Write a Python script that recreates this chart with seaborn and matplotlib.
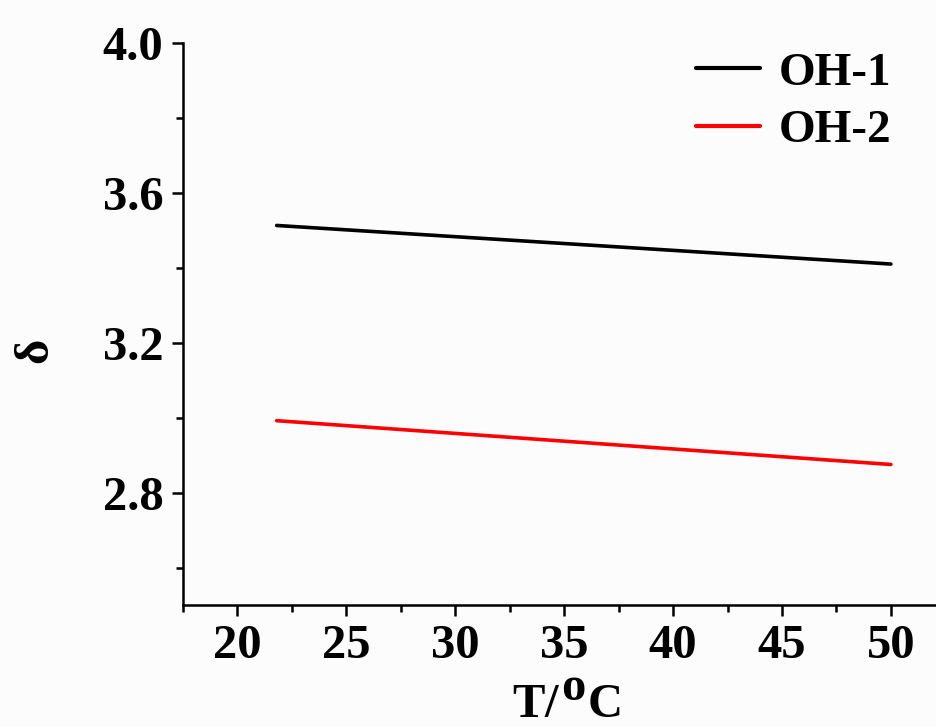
import matplotlib
matplotlib.use("Agg")
import matplotlib.pyplot as plt
import seaborn as sns
import pandas as pd
from matplotlib.ticker import MultipleLocator

temperature = [21.8, 50.0]
oh1 = [3.513, 3.410]
oh2 = [2.992, 2.875]
series_names = ["OH-1", "OH-2"]
colors = ["#000000", "#ff0000"]

df = pd.concat([
    pd.DataFrame({"T": temperature, "delta": oh1, "series": series_names[0]}),
    pd.DataFrame({"T": temperature, "delta": oh2, "series": series_names[1]}),
])

sns.set_style("ticks")
plt.rcParams["font.family"] = ["Liberation Serif", "DejaVu Serif"]
plt.rcParams["font.weight"] = "bold"
plt.rcParams["text.color"] = "black"
plt.rcParams["axes.labelcolor"] = "black"
plt.rcParams["mathtext.fontset"] = "custom"
plt.rcParams["mathtext.rm"] = "Liberation Serif:bold"
plt.rcParams["mathtext.bf"] = "Liberation Serif:bold"
plt.rcParams["mathtext.it"] = "Liberation Serif:bold"

fig = plt.figure(figsize=(9.36, 7.27), dpi=100)
fig.patch.set_facecolor("#fcfcfc")
ax = fig.add_axes([183/936, 1-605/727, 1-183/936 + 0.01, (605-43)/727])
ax.set_facecolor("#fcfcfc")

sns.lineplot(data=df, x="T", y="delta", hue="series", palette=colors,
             linewidth=2.6, ax=ax, legend=True)

ax.set_xlim(17.5, 52.5)
ax.set_ylim(2.5, 4.0)
ax.xaxis.set_major_locator(MultipleLocator(5))
ax.xaxis.set_minor_locator(MultipleLocator(2.5))
ax.yaxis.set_minor_locator(MultipleLocator(0.2))
ax.set_yticks([2.8, 3.2, 3.6, 4.0])
ax.set_yticklabels(["2.8", "3.2", "3.6", "4.0"])

for s in ["top", "right"]:
    ax.spines[s].set_visible(False)
for s in ["left", "bottom"]:
    ax.spines[s].set_linewidth(1.8)
    ax.spines[s].set_color("black")

ax.tick_params(axis="both", which="major", direction="out", length=8, width=1.8,
               labelsize=35, pad=6, colors="black")
ax.tick_params(axis="both", which="minor", direction="out", length=5, width=1.8,
               colors="black")
for lab in ax.get_xticklabels() + ax.get_yticklabels():
    lab.set_fontweight("bold")

ax.set_xlabel("")
ax.set_ylabel("")

W, H = fig.bbox.width, fig.bbox.height
# y-axis label
fig.text(35 / W, 1 - 350 / H, "δ", fontsize=35, fontweight="bold", color="black",
         rotation=90, ha="center", va="center")

# x-axis label "T/oC" with a raised, full-size "o" (mathtext pieces -> tight boxes)
fig.canvas.draw()
renderer = fig.canvas.get_renderer()
x0, base = 512, 717
kw = dict(fontsize=35, color="black", va="baseline", ha="left")
t1 = fig.text(x0 / W, 1 - base / H, r"$\mathbf{T/}$", **kw)
w1 = t1.get_window_extent(renderer).width
t2 = fig.text((x0 + w1 + 1) / W, 1 - (base - 17) / H, r"$\mathbf{o}$", **kw)
w2 = t2.get_window_extent(renderer).width
fig.text((x0 + w1 + w2 + 2) / W, 1 - base / H, r"$\mathbf{C}$", **kw)

leg = ax.legend(loc="upper right", bbox_to_anchor=(0.985, 1.06), frameon=False,
                handlelength=1.35, handletextpad=0.4, labelspacing=0.3,
                prop={"weight": "bold", "size": 34, "family": "Liberation Serif"})
for line in leg.get_lines():
    line.set_linewidth(3)
for t in leg.get_texts():
    t.set_color("black")

fig.savefig("out.png", dpi=100, facecolor=fig.get_facecolor())
